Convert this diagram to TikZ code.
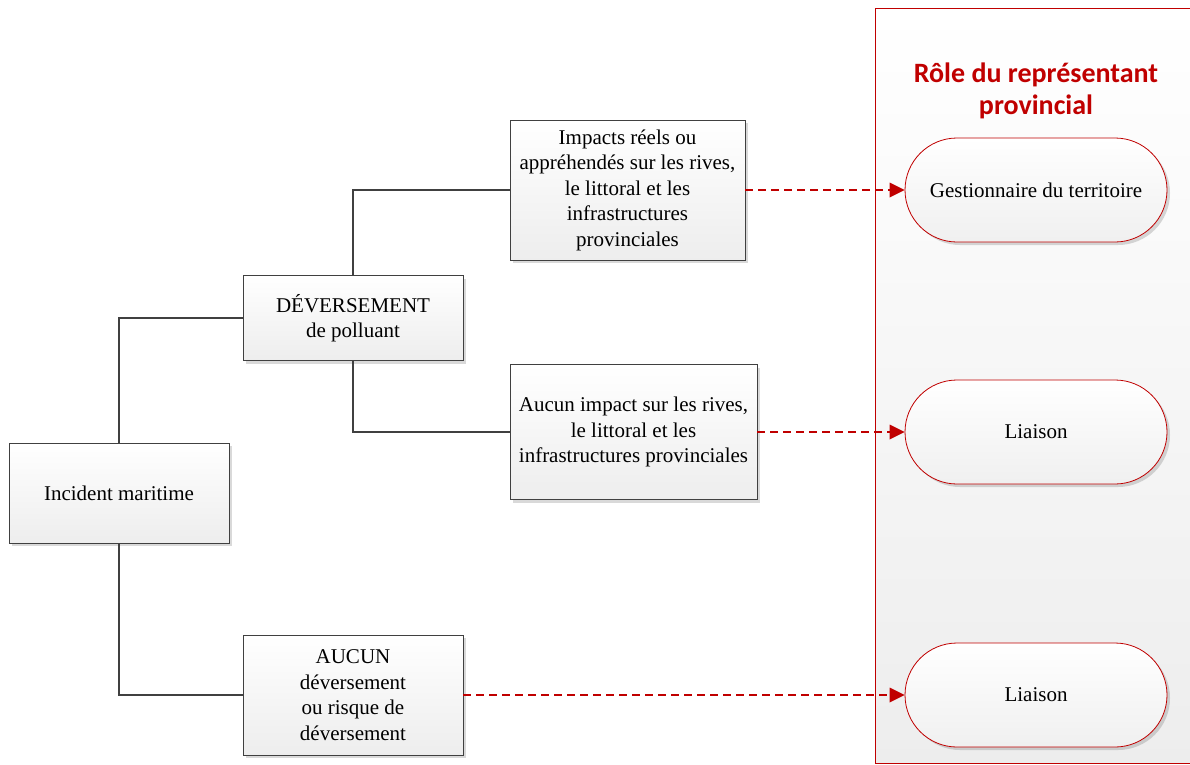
\documentclass[tikz,border=0pt]{standalone}
\usepackage{fontspec}
\setmainfont{Liberation Serif}
\newfontfamily\titlefont{Carlito}
\usetikzlibrary{shapes.misc,shadows,arrows.meta}
\definecolor{darkred}{HTML}{C00000}
\definecolor{linegray}{HTML}{404040}
\begin{document}
\begin{tikzpicture}[x=1pt,y=-1pt,
  box/.style={draw=linegray, line width=0.8pt, top color=white, bottom color=gray!14,
    align=center, inner sep=2pt, font=\fontsize{21}{25.5}\selectfont,
    drop shadow={shadow xshift=3pt, shadow yshift=-3pt, fill=black, opacity=0.15}},
  role/.style={rounded rectangle, draw=darkred, line width=0.8pt, top color=white, bottom color=gray!12,
    minimum width=262pt, minimum height=104pt, inner sep=0pt, align=center,
    font=\fontsize{21}{25.5}\selectfont,
    drop shadow={shadow xshift=3pt, shadow yshift=-3pt, fill=black, opacity=0.15}},
  link/.style={draw=linegray, line width=1.6pt},
  flow/.style={draw=darkred, line width=2.4pt, dash pattern=on 8pt off 5pt,
    -{Triangle[length=15pt,width=15pt,line width=0pt]}},
  paneltitle/.style={align=center, text=darkred, font=\titlefont\bfseries\fontsize{28}{32}\selectfont}
]
\useasboundingbox (0,0) rectangle (1190,764);
% right panel
\path[draw=darkred, line width=0.8pt, top color=white, bottom color=gray!14] (875,8) rectangle (1196,763);
\node[paneltitle] (title) at (1036,91) {Rôle du représentant\\provincial};

% boxes
\node[box, minimum width=220pt, minimum height=100pt] (inc) at (119,493) {Incident maritime};
\node[box, minimum width=220pt, minimum height=85pt] (dev) at (353,318) {DÉVERSEMENT\\de polluant};
\node[box, minimum width=235pt, minimum height=140pt] (imp) at (627.5,190) {Impacts réels ou\\appréhendés sur les rives,\\le littoral et les\\infrastructures\\provinciales};
\node[box, minimum width=247pt, minimum height=135pt] (noimp) at (633.5,432) {Aucun impact sur les rives,\\le littoral et les\\infrastructures provinciales};
\node[box, minimum width=220pt, minimum height=120pt] (none) at (353,695) {AUCUN\\déversement\\ou risque de\\déversement};

% roles
\node[role] (gest) at (1036,190) {Gestionnaire du territoire};
\node[role] (liai1) at (1036,432) {Liaison};
\node[role] (liai2) at (1036,695) {Liaison};

% tree connectors
\draw[link] (inc.north) |- (dev.west);
\draw[link] (inc.south) |- (none.west);
\draw[link] (dev.north) |- (imp.west);
\draw[link] (dev.south) |- (noimp.west);

% dashed arrows
\draw[flow] (imp.east) -- (gest.west);
\draw[flow] (noimp.east) -- (liai1.west);
\draw[flow] (none.east) -- (liai2.west);
\end{tikzpicture}
\end{document}
